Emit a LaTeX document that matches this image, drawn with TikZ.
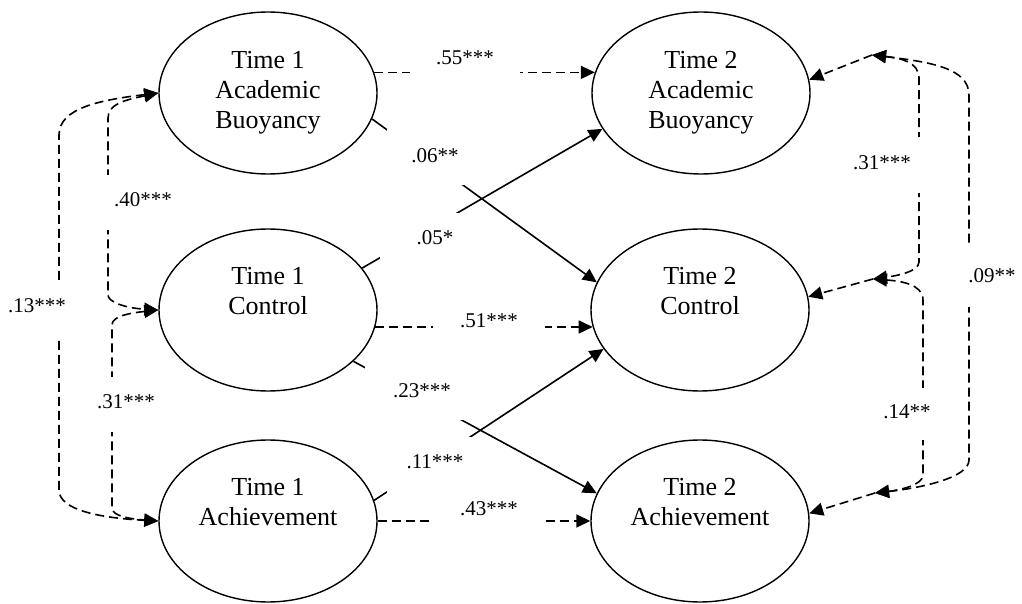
\documentclass[tikz,border=0pt]{standalone}
\usepackage{fontspec}
\setmainfont{Liberation Serif}
\usetikzlibrary{arrows.meta, shapes.geometric}

\begin{document}
\begin{tikzpicture}[x=0.5pt, y=-0.5pt,
	latent/.style={draw, ellipse, line width=0.7pt, minimum width=109pt, minimum height=81pt, inner sep=0pt, align=center, font=\fontsize{13}{15}\selectfont},
	reg/.style={-{Triangle[length=7pt,width=6.5pt]}, line width=0.8pt},
	cov/.style={reg, dash pattern=on 4.5pt off 2.5pt},
	bicov/.style={cov, {Triangle[length=7pt,width=6.5pt]}-{Triangle[length=7pt,width=6.5pt]}},
	coef/.style={fill=white, inner sep=0pt, anchor=base, font=\fontsize{10.5}{12}\selectfont}]
\useasboundingbox (0,0) rectangle (1022,604);
\node[latent] (t1ab) at (268,93) {Time 1\\Academic\\Buoyancy};
\node[latent] (t1con) at (268,310) {Time 1\\Control\\\strut};
\node[latent] (t1ach) at (268,521) {Time 1\\Achievement\\\strut};
\node[latent] (t2ab) at (701,93) {Time 2\\Academic\\Buoyancy};
\node[latent] (t2con) at (700,310) {Time 2\\Control\\\strut};
\node[latent] (t2ach) at (700,521) {Time 2\\Achievement\\\strut};
\coordinate (ab2r) at (872,55);
\coordinate (con2r) at (873,279);
\coordinate (ach2r) at (875,493);
% stability paths
\draw[cov] (t1ab.11) -- (t2ab.169); 
\draw[cov] (t1con.-9) -- (t2con.189); 
\draw[cov] (t1ach.east) -- (t2ach.west); 
% cross-lagged paths
\draw[reg] (t1ab.-14) -- (t2con.165); 
\draw[reg] (t1con.24) -- (t2ab.200); 
\draw[reg] (t1con.-31) -- (t2ach.165); 
\draw[reg] (t1ach.11) -- (t2con.202); 
% time 1 correlations
\draw[bicov] (t1ab.west) .. controls (100,100) and (59,108) .. (59,135) -- (59,490) .. controls (59,510) and (100,518) .. (t1ach.west); 
\draw[bicov] (t1ab.west) .. controls (125,100) and (108,104) .. (108,118) -- (108,295) .. controls (108,302) and (125,308) .. (t1con.west); 
\draw[bicov] (t1con.west) .. controls (130,313) and (112,316) .. (112,325) -- (112,508) .. controls (112,516) and (130,519) .. (t1ach.west); 
% time 2 residual correlations
\draw[cov] (ab2r) -- (t2ab.7); 
\draw[cov] (con2r) -- (t2con.7); 
\draw[cov] (ach2r) -- (t2ach.4); 
\draw[bicov] (ab2r) .. controls (900,58) and (919,62) .. (919,78) -- (919,262) .. controls (919,272) and (895,276) .. (con2r); 
\draw[bicov] (ab2r) .. controls (930,62) and (969,68) .. (969,95) -- (969,460) .. controls (969,478) and (920,488) .. (ach2r); 
\draw[bicov] (con2r) .. controls (900,281) and (923,284) .. (923,300) -- (923,475) .. controls (923,485) and (900,490) .. (ach2r); 
% coefficients
\node[coef, text height=10pt, text depth=7.5pt, minimum width=55pt] (c55) at (465,65) {.55***};
\node[coef, text height=11.5pt, text depth=6pt, minimum width=56pt] (c51) at (489,328) {.51***};
\node[coef, text height=10pt, text depth=10pt, minimum width=56pt] (c43) at (489,515) {.43***};
\node[coef, text height=17.5pt, text depth=11pt, minimum width=48pt] (c06) at (435,163) {.06**};
\node[coef, text height=16pt, text depth=10pt, minimum width=55pt] (c05) at (435,245) {.05*};
\node[coef, text height=18.5pt, text depth=11.5pt, minimum width=57pt] (c23) at (422,397) {.23***};
\node[coef, text height=15.5pt, text depth=16pt, minimum width=48pt] (c11) at (435,468) {.11***};
\node[coef, text height=16pt, text depth=11.5pt, minimum width=43pt] (c40) at (143,207) {.40***};
\node[coef, text height=15pt, text depth=12.5pt, minimum width=33pt] (c13) at (37,312) {.13***};
\node[coef, text height=15.5pt, text depth=12pt, minimum width=31pt] (c31a) at (126,408) {.31***};
\node[coef, text height=16.5pt, text depth=11.5pt, minimum width=43pt] (c31b) at (882,170) {.31***};
\node[coef, text height=19.5pt, text depth=12.5pt, minimum width=26pt] (c09) at (992,282) {.09**};
\node[coef, text height=15pt, text depth=11pt, minimum width=27pt] (c14) at (907,418) {.14**};
\end{tikzpicture}
\end{document}
